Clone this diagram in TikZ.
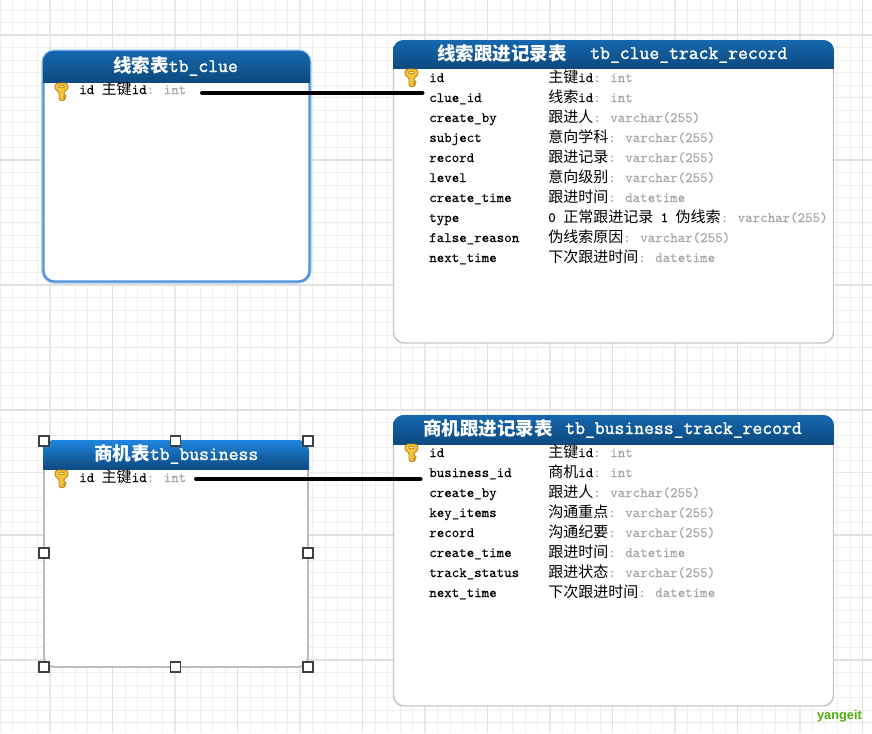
\documentclass[tikz,border=0pt]{standalone}
\usepackage{fontspec}
\newfontfamily\cjk{Noto Sans CJK SC}
\newfontfamily\monorow[FakeBold=0.2]{Latin Modern Mono}
\newfontfamily\monohead[FakeBold=1.5]{Latin Modern Mono}
\definecolor{gridminor}{HTML}{EFEFEF}
\definecolor{gridmedium}{HTML}{E9E9E9}
\definecolor{gridmajor}{HTML}{E0E0E0}
\definecolor{headtop}{HTML}{1567AE}
\definecolor{headlow}{HTML}{0D4A80}
\definecolor{headlit}{HTML}{1F85DF}
\definecolor{typegray}{HTML}{A6A6A6}
\definecolor{framegray}{HTML}{C6C6C6}
\definecolor{glowblue}{HTML}{4F94DC}
\definecolor{keygold}{HTML}{F6C43A}
\definecolor{keyedge}{HTML}{B5820F}
\definecolor{markgreen}{HTML}{4FAB0C}
\newcommand{\zh}[1]{{\fontsize{11.25pt}{13pt}\cjk #1}}
\newcommand{\zhb}[1]{{\fontsize{13.9pt}{16pt}\cjk\bfseries #1}}
\newcommand{\kind}[1]{\textcolor{typegray}{:\kern1.5pt\ #1}}
\tikzset{
  framebox/.style={draw=framegray, line width=1.1pt, fill=white, rounded corners=8pt},
  headbar/.style={top color=headtop, bottom color=headlow},
  headtext/.style={text=white, font=\monohead\fontsize{14.35pt}{15pt}\selectfont, inner sep=0pt, anchor=base west},
  rowtext/.style={font=\monorow\fontsize{10.7pt}{12pt}\selectfont, inner sep=0pt, anchor=base west},
  handlebox/.style={draw=black!75, fill=white, line width=1.1pt, minimum size=7.5pt, inner sep=0pt},
  linkline/.style={line width=3pt, line cap=round},
  pics/goldkey/.style={code={
    \filldraw[keyedge, fill=keygold, line width=0.6pt, rounded corners=0.8pt]
      (4,9) -- (1,7) -- (0,5) -- (0,2) -- (2,0) -- (11,0) -- (13,2) -- (13,5) -- (12,7) -- (9,9)
      -- (9,12) -- (11,12) -- (11,14) -- (9,14) -- (9,15) -- (10,15) -- (10,17) -- (6,18) -- (4,16) -- cycle;
    \filldraw[keyedge, fill=white!70!keygold, line width=0.5pt] (6.5,3.5) ellipse (3 and 1.3);
  }},
}
\begin{document}
\begin{tikzpicture}[x=0.75pt, y=-0.75pt]
  \useasboundingbox (0,0) rectangle (872,733);
  % grid
  \foreach \xx in {0,12.5,...,872}
    \draw[gridminor, line width=0.7pt] (\xx,0) -- (\xx,733);
  \foreach \yy in {10,22.5,...,733}
    \draw[gridminor, line width=0.7pt] (0,\yy) -- (872,\yy);
  \foreach \xx in {50,175,...,872}
    \draw[gridmedium, line width=0.8pt] (\xx,0) -- (\xx,733);
  \foreach \yy in {97.5,222.5,...,733}
    \draw[gridmedium, line width=0.8pt] (0,\yy) -- (872,\yy);
  \foreach \xx in {112.5,237.5,...,872}
    \draw[gridmajor, line width=1pt] (\xx,0) -- (\xx,733);
  \foreach \yy in {35,160,...,733}
    \draw[gridmajor, line width=1pt] (0,\yy) -- (872,\yy);

  % tb_clue
  \draw[framebox, draw=glowblue!35, line width=3.4pt] (43.5,51.5) rectangle (309.5,281.5);
  \draw[framebox, draw=glowblue, line width=1.8pt] (43.5,51.5) rectangle (309.5,281.5);
  \begin{scope}
    \clip[rounded corners=8pt] (43,51) rectangle (310,100);
    \shade[headbar] (43,51) rectangle (310,82);
  \end{scope}
  \node[headtext] (clueHead) at (113,72) {\zhb{线索表}tb\_clue};
  \pic at (55,83) {goldkey};
  \node[rowtext] (cluePk) at (79,94) {id \zh{主键}id\kind{int}};

  % tb_clue_track_record
  \draw[framebox] (393.5,40.5) rectangle (833.5,343);
  \begin{scope}
    \clip[rounded corners=8pt] (393,40) rectangle (834,90);
    \shade[headbar] (393,40) rectangle (834,68);
  \end{scope}
  \node[headtext] (trackHead) at (437,60) {\zhb{线索跟进记录表}};
  \node[headtext] (trackName) at (590,59) {tb\_clue\_track\_record};
  \pic at (405,69) {goldkey};
  \foreach \name/\note/\type [count=\i from 0] in {
      id/\zh{主键}id/int,
      clue\_id/\zh{线索}id/int,
      create\_by/\zh{跟进人}/varchar(255),
      subject/\zh{意向学科}/varchar(255),
      record/\zh{跟进记录}/varchar(255),
      level/\zh{意向级别}/varchar(255),
      create\_time/\zh{跟进时间}/datetime,
      type/0 \zh{正常跟进记录} 1 \zh{伪线索}/varchar(255),
      false\_reason/\zh{伪线索原因}/varchar(255),
      next\_time/\zh{下次跟进时间}/datetime} {
    \node[rowtext] (trackCol\i) at (429,{82+20*\i}) {\name};
    \node[rowtext] (trackNote\i) at (548,{82+20*\i}) {\note\kind{\type}};
  }

  % tb_business
  \draw[framebox, draw=framegray!95!black, line width=1.4pt] (44,441) rectangle (308,667);
  \begin{scope}
    \clip[rounded corners=8pt] (43,440) rectangle (309,490);
    \shade[headbar, top color=headlit] (43,440) rectangle (309,469);
  \end{scope}
  \node[headtext] (busHead) at (94,460) {\zhb{商机表}tb\_business};
  \pic at (55,470) {goldkey};
  \node[rowtext] (busPk) at (79,482) {id \zh{主键}id\kind{int}};
  \foreach \hx/\hy [count=\i] in {44/441,175.5/441,308/441,44/553,308/553,44/667,175.5/667,308/667}
    \node[handlebox] (busHandle\i) at (\hx,\hy) {};

  % tb_business_track_record
  \draw[framebox] (393.5,415.5) rectangle (833.5,706);
  \begin{scope}
    \clip[rounded corners=8pt] (393,415) rectangle (834,465);
    \shade[headbar] (393,415) rectangle (834,444);
  \end{scope}
  \node[headtext] (dealHead) at (423,435) {\zhb{商机跟进记录表}};
  \node[headtext] (dealName) at (565,434) {tb\_business\_track\_record};
  \pic at (405,444) {goldkey};
  \foreach \name/\note/\type [count=\i from 0] in {
      id/\zh{主键}id/int,
      business\_id/\zh{商机}id/int,
      create\_by/\zh{跟进人}/varchar(255),
      key\_items/\zh{沟通重点}/varchar(255),
      record/\zh{沟通纪要}/varchar(255),
      create\_time/\zh{跟进时间}/datetime,
      track\_status/\zh{跟进状态}/varchar(255),
      next\_time/\zh{下次跟进时间}/datetime} {
    \node[rowtext] (dealCol\i) at (429,{457+20*\i}) {\name};
    \node[rowtext] (dealNote\i) at (548,{457+20*\i}) {\note\kind{\type}};
  }

  % links
  \coordinate (clueFrom) at (202,93);
  \coordinate (clueTo) at (422.5,93);
  \coordinate (busFrom) at (196,479);
  \coordinate (busTo) at (420.5,479);
  \draw[linkline] (clueFrom) -- (clueTo);
  \draw[linkline] (busFrom) -- (busTo);

  \node[inner sep=0pt, text=markgreen, font={\fontspec{Liberation Sans}\fontsize{9.6pt}{11pt}\bfseries}] (mark) at (839.5,716) {yangeit};
\end{tikzpicture}
\end{document}
